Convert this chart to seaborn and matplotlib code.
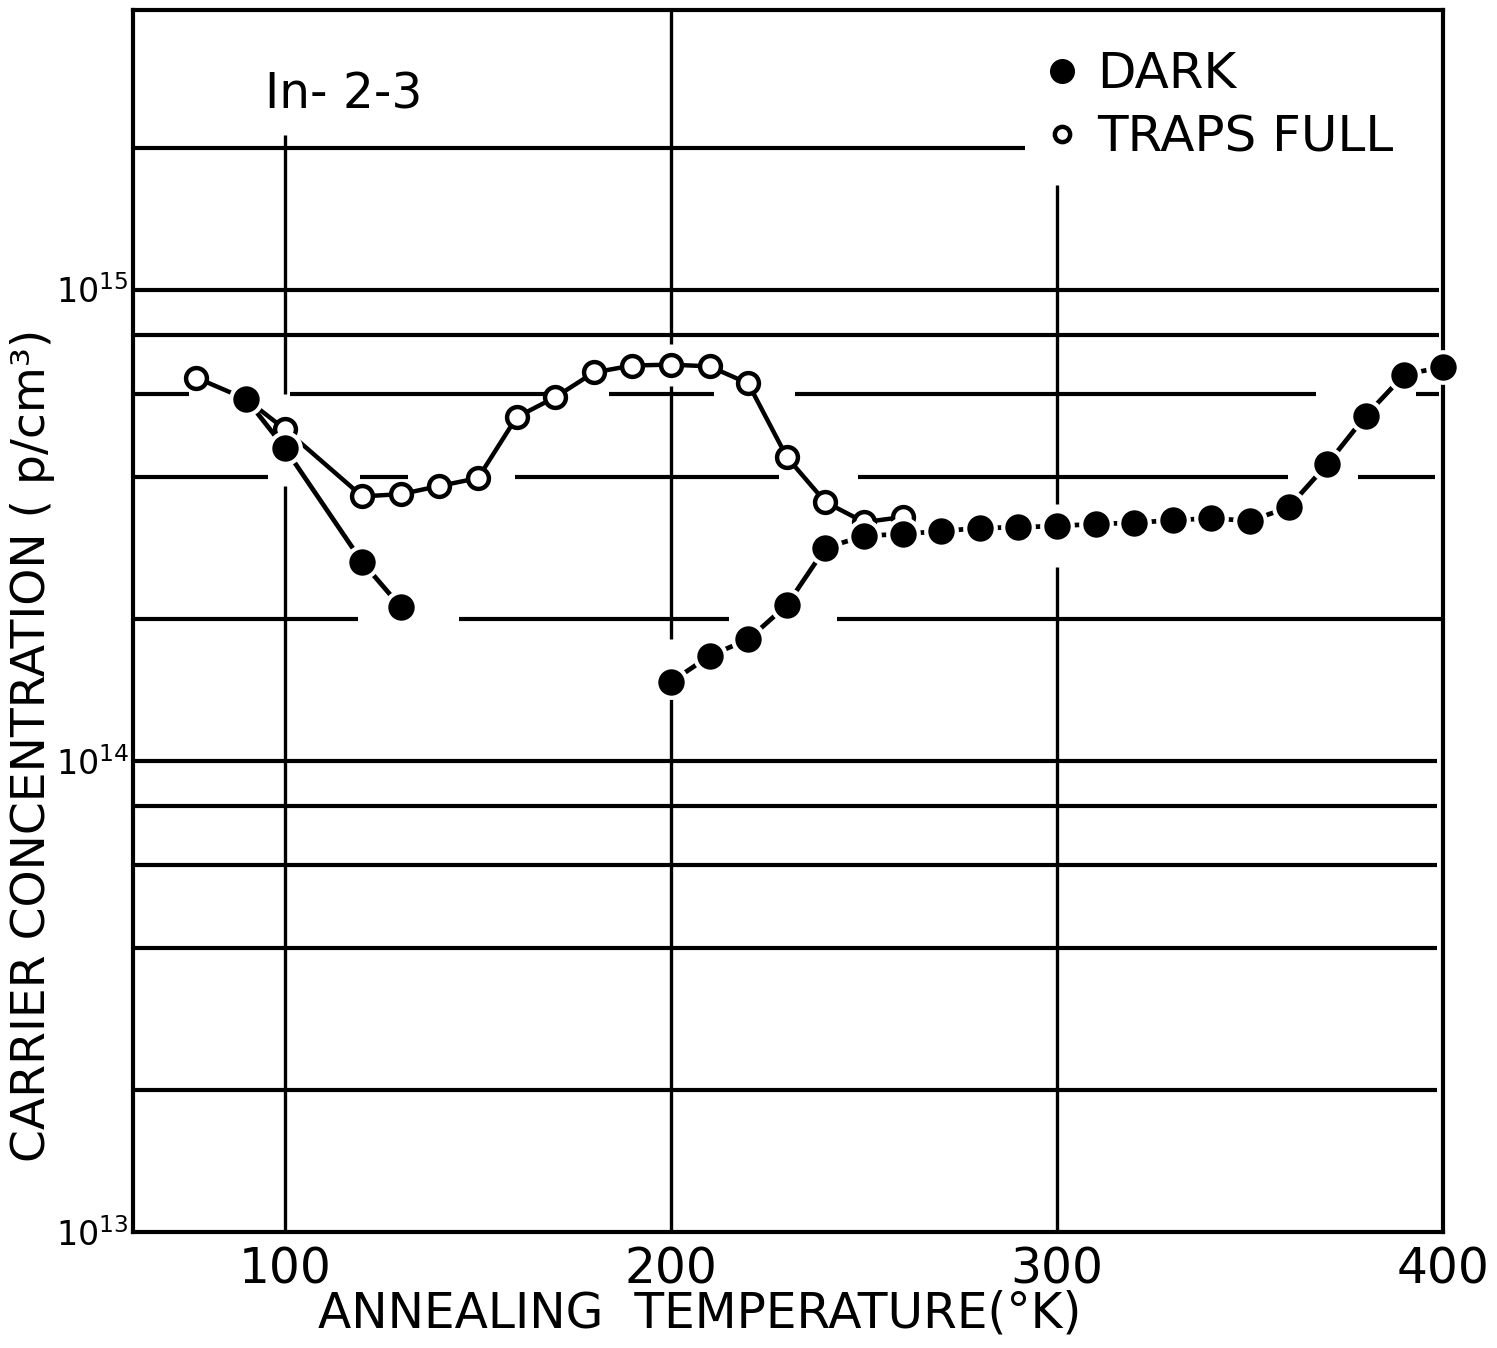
import matplotlib
matplotlib.use("Agg")
import matplotlib.pyplot as plt
import pandas as pd
import seaborn as sns
from matplotlib.lines import Line2D

# ---------------- data ----------------
dark_temp = [90, 100, 120, 130,
             200, 210, 220, 230, 240, 250, 260, 270, 280, 290, 300,
             310, 320, 330, 340, 350, 360, 370, 380, 390, 400]
dark_conc = [5.85e14, 4.6e14, 2.64e14, 2.12e14,
             1.47e14, 1.67e14, 1.81e14, 2.14e14, 2.83e14, 3.0e14, 3.03e14,
             3.07e14, 3.12e14, 3.13e14, 3.15e14, 3.18e14, 3.2e14, 3.24e14,
             3.27e14, 3.23e14, 3.45e14, 4.26e14, 5.4e14, 6.6e14, 6.85e14]
dark_run = [0, 0, 0, 0] + [1] * 21

traps_temp = [77, 90, 100, 120, 130, 140, 150, 160, 170, 180, 190, 200,
              210, 220, 230, 240, 250, 260]
traps_conc = [6.5e14, 5.85e14, 5.05e14, 3.64e14, 3.68e14, 3.83e14, 3.98e14,
              5.36e14, 5.91e14, 6.67e14, 6.9e14, 6.93e14, 6.87e14, 6.32e14,
              4.41e14, 3.54e14, 3.21e14, 3.29e14]

series_names = ["DARK", "TRAPS FULL"]
x_ticks = [100, 200, 300, 400]
x_tick_labels = ["100", "200", "300", "400"]
y_ticks = [1e13, 1e14, 1e15]
y_tick_labels = [r"$10^{13}$", r"$10^{14}$", r"$10^{15}$"]
sample_label = "In- 2-3"
x_label = "ANNEALING  TEMPERATURE(°K)"
y_label = "CARRIER CONCENTRATION ( p/cm³)"

# ---------------- style ----------------
sns.set_style("white")
plt.rcParams["font.family"] = ["DejaVu Sans"]
plt.rcParams["mathtext.fontset"] = "dejavusans"

XLIM = (60.6, 400.0)
YLIM = (1e13, 3.92e15)
LW = 3.0

# hand-drawn grid segments (style only)
h_grid = {
    2e15: [(60.6, 291.7)],
    1e15: [(60.6, 399.0)],
    8e14: [(60.6, 399.0)],
    6e14: [(60.6, 75.0), (101.3, 171.0), (184.0, 211.0), (232.0, 367.0), (393.0, 399.0)],
    4e14: [(60.6, 95.6), (119.4, 131.9), (159.6, 228.0), (248.4, 359.8), (378.0, 398.0)],
    2e14: [(60.6, 118.9), (145.0, 215.0), (243.0, 400.0)],
    1e14: [(60.6, 398.5)],
    8e13: [(60.6, 398.5)],
    6e13: [(60.6, 398.5)],
    4e13: [(60.6, 398.5)],
    2e13: [(60.6, 398.5)],
}
v_grid = {
    100: [(1e13, 3.83e14), (6.0e14, 2.13e15)],
    200: [(1e13, 1.35e14), (1.81e14, 6.23e14), (7.65e14, 3.92e15)],
    300: [(1e13, 2.58e14), (3.5e14, 1.67e15)],
}

fig = plt.figure(figsize=(14.97, 13.48), dpi=100)
ax = fig.add_axes([133 / 1497, 1 - 1232 / 1348, (1443 - 133) / 1497, (1232 - 10) / 1348])
ax.set_yscale("log")
ax.set_xlim(*XLIM)
ax.set_ylim(*YLIM)

for y, segs in h_grid.items():
    for x0, x1 in segs:
        ax.hlines(y, x0, x1, color="black", lw=LW, zorder=1)
for x, segs in v_grid.items():
    for y0, y1 in segs:
        ax.vlines(x, y0, y1, color="black", lw=LW * 0.8, zorder=1)

dark_df = pd.DataFrame({"temp": dark_temp, "conc": dark_conc, "run": dark_run})
traps_df = pd.DataFrame({"temp": traps_temp, "conc": traps_conc})

sns.lineplot(data=traps_df, x="temp", y="conc", estimator=None,
             color="black", lw=3.2, marker="o", markersize=15,
             markeredgecolor="black", markerfacecolor="white", markeredgewidth=3.2,
             ax=ax, zorder=3, legend=False)
sns.lineplot(data=dark_df, x="temp", y="conc", units="run", estimator=None,
             color="black", lw=3.4, marker="o", markersize=22,
             markeredgecolor="white", markerfacecolor="black", markeredgewidth=3,
             ax=ax, zorder=4, legend=False)
for ln in ax.lines:
    ln.set_clip_on(False)

ax.set_xticks(x_ticks)
ax.set_xticklabels(x_tick_labels)
ax.set_yticks(y_ticks)
ax.set_yticklabels(y_tick_labels)
ax.minorticks_off()
ax.tick_params(axis="both", length=0, colors="black")
ax.tick_params(axis="x", pad=10, labelsize=35)
ax.tick_params(axis="y", pad=3, labelsize=24)
for s in ax.spines.values():
    s.set_visible(True)
    s.set_color("black")
    s.set_linewidth(LW)

ax.set_xlabel(x_label, fontsize=35, color="black")
ax.xaxis.set_label_coords((700 - 133) / 1310, -0.047)
ax.set_ylabel(y_label, fontsize=34, color="black")
ax.yaxis.set_label_coords(-0.0595, 0.398)

ax.text(94.8, 2.59e15, sample_label, fontsize=35, va="center", ha="left", color="black")

handles = [
    Line2D([], [], ls="", marker="o", markersize=17, color="black"),
    Line2D([], [], ls="", marker="o", markersize=11, markerfacecolor="white",
           markeredgecolor="black", markeredgewidth=3.2),
]
ax.legend(handles, series_names, loc="upper left", bbox_to_anchor=(0.694, 0.967),
          frameon=False, fontsize=36, handlelength=0.8, handletextpad=0.3,
          labelspacing=0.31, borderpad=0, borderaxespad=0, labelcolor="black")

fig.savefig("out.png", dpi=100, facecolor="white")
